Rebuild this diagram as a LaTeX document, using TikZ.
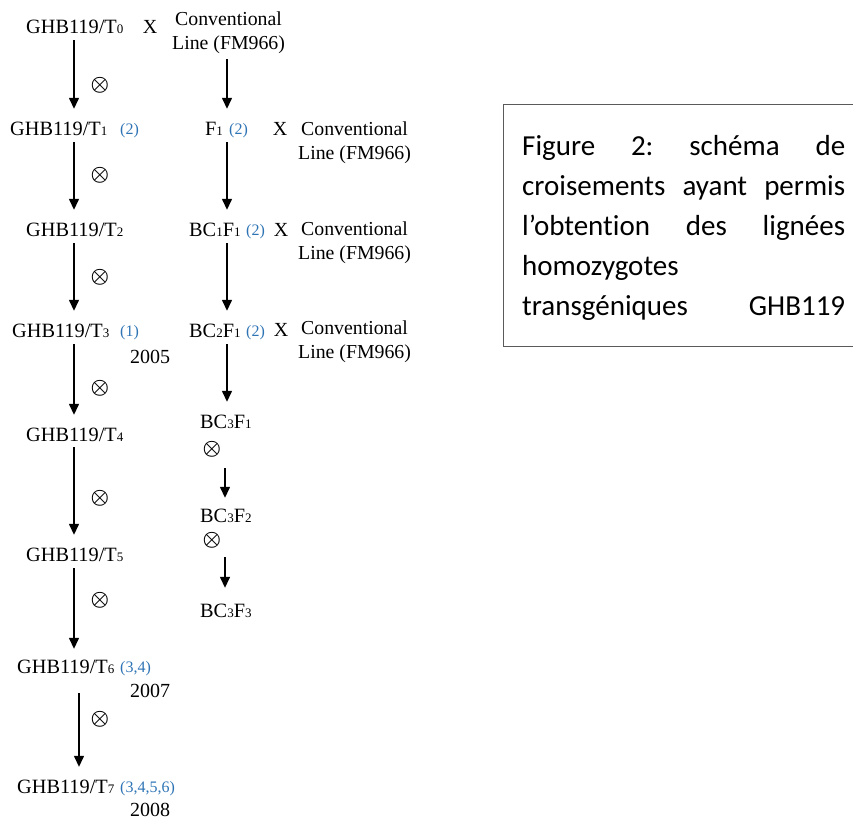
\documentclass[tikz,border=0pt]{standalone}
\usepackage{fontspec}
\usepackage{bm}
\setmainfont{Liberation Serif}
\newfontfamily\calib[Ligatures=NoCommon]{Carlito}
\usetikzlibrary{arrows.meta}
\definecolor{refblue}{RGB}{46,116,181}
\definecolor{boxgray}{RGB}{90,90,90}
\newcommand\sbs[1]{\raisebox{-0.8pt}{\fontsize{13}{13}\selectfont #1}}
\begin{document}
\begin{tikzpicture}[x=1pt,y=-1pt,
  lbl/.style={inner sep=0pt, anchor=base west, font=\fontsize{20.3}{23}\selectfont, text height=14pt, text depth=4pt},
  conv/.style={inner sep=0pt, anchor=base west, align=center, font=\fontsize{19.8}{23.5}\selectfont},
  cite/.style={inner sep=0pt, anchor=base west, text=refblue, font=\fontsize{16}{16}\selectfont},
  yr/.style={inner sep=0pt, anchor=base west, font=\fontsize{20}{23}\selectfont},
  cross/.style={inner sep=0pt, anchor=base, font=\fontsize{20}{23}\selectfont},
  self/.style={inner sep=0pt, font=\fontsize{20}{20}\selectfont},
  arr/.style={line width=1.4pt, -{Triangle[width=10pt,length=11pt]}, shorten <=3pt, shorten >=12pt},
]
\useasboundingbox (0,0) rectangle (853,819);
\coordinate (cL) at (74,0);
\coordinate (cL7) at (79,0);
\coordinate (cR) at (227,0);
\coordinate (cR2) at (225,0);

% left column
\node[lbl] (t0) at (26,33) {GHB119/T\sbs{0}};
\node[cross] (x0) at (150,33) {X};
\node[conv] (c0) at (172,49) {Conventional\\Line (FM966)};

\node[lbl] (t1) at (10,135) {GHB119/T\sbs{1}};
\node[cite] (r1) at (120,134) {(2)};
\node[lbl] (f1) at (205,135) {F\sbs{1}};
\node[cite] (rf1) at (229,134) {(2)};
\node[cross] (x1) at (280,135) {X};
\node[conv] (c1) at (298,159) {Conventional\\Line (FM966)};

\node[lbl] (t2) at (26,236) {GHB119/T\sbs{2}};
\node[lbl] (b1) at (189,236) {BC\sbs{1}F\sbs{1}};
\node[cite] (rb1) at (246,235) {(2)};
\node[cross] (x2) at (281,236) {X};
\node[conv] (c2) at (298,259) {Conventional\\Line (FM966)};

\node[lbl] (t3) at (12,337) {GHB119/T\sbs{3}};
\node[cite] (r3) at (120,336) {(1)};
\node[yr] (y5) at (130,363) {2005};
\node[lbl] (b2) at (189,337) {BC\sbs{2}F\sbs{1}};
\node[cite] (rb2) at (246,336) {(2)};
\node[cross] (x3) at (281,336) {X};
\node[conv] (c3) at (298,358) {Conventional\\Line (FM966)};

\node[lbl] (t4) at (26,441) {GHB119/T\sbs{4}};
\node[lbl] (b3) at (200,428) {BC\sbs{3}F\sbs{1}};
\node[lbl] (b4) at (200,522) {BC\sbs{3}F\sbs{2}};
\node[lbl] (b5) at (200,617) {BC\sbs{3}F\sbs{3}};
\node[lbl] (t5) at (26,561) {GHB119/T\sbs{5}};
\node[lbl] (t6) at (17,673) {GHB119/T\sbs{6}};
\node[cite] (r6) at (120,672) {(3,4)};
\node[yr] (y7) at (130,697) {2007};
\node[lbl] (t7) at (17,793) {GHB119/T\sbs{7}};
\node[cite] (r7) at (120,792) {(3,4,5,6)};
\node[yr] (y8) at (130,816) {2008};

% selfing symbols
\node[self] (s1) at (100,85) {$\bm{\otimes}$};
\node[self] (s2) at (100,175) {$\bm{\otimes}$};
\node[self] (s3) at (100,277) {$\bm{\otimes}$};
\node[self] (s4) at (100,388) {$\bm{\otimes}$};
\node[self] (s5) at (100,498) {$\bm{\otimes}$};
\node[self] (s6) at (100,600) {$\bm{\otimes}$};
\node[self] (s7) at (100,719) {$\bm{\otimes}$};
\node[self] (s8) at (212,449) {$\bm{\otimes}$};
\node[self] (s9) at (212,540) {$\bm{\otimes}$};

% arrows left
\draw[arr] (t0.south -| cL) -- (t1.north -| cL);
\draw[arr] (t1.south -| cL) -- (t2.north -| cL);
\draw[arr] (t2.south -| cL) -- (t3.north -| cL);
\draw[arr] (t3.south -| cL) -- (t4.north -| cL);
\draw[arr, shorten <=2pt] (t4.south -| cL) -- (t5.north -| cL);
\draw[arr, shorten >=10pt] (t5.south -| cL) -- (t6.north -| cL);
\draw[arr, shorten <=16pt] (t6.south -| cL7) -- (t7.north -| cL7);

% arrows right
\draw[arr, shorten <=6pt] (c0.south -| cR) -- (f1.north -| cR);
\draw[arr] (f1.south -| cR) -- (b1.north -| cR);
\draw[arr] (b1.south -| cR) -- (b2.north -| cR);
\draw[arr] (b2.south -| cR) -- (b3.north -| cR);
\draw[arr, shorten <=36pt, shorten >=10pt] (b3.south -| cR2) -- (b4.north -| cR2);
\draw[arr, shorten <=31pt, shorten >=15pt] (b4.south -| cR2) -- (b5.north -| cR2);

% caption box
\draw[boxgray, line width=1pt] (853,104.5) -- (503.5,104.5) -- (503.5,346.5) -- (853,346.5);
\node[anchor=base west, inner sep=0pt, text width=323pt, align=left,
      font=\calib\fontsize{29}{40}\selectfont] (cap) at (522,155)
  {\makebox[323pt][l]{Figure\hfill 2:\hfill schéma\hfill de}\\
   \makebox[323pt][l]{croisements\hfill ayant\hfill permis}\\
   \makebox[323pt][l]{l’obtention\hfill des\hfill lignées}\\
   \makebox[323pt][l]{homozygotes}\\
   \makebox[323pt][l]{transgéniques\hfill GHB119}};
\end{tikzpicture}
\end{document}
